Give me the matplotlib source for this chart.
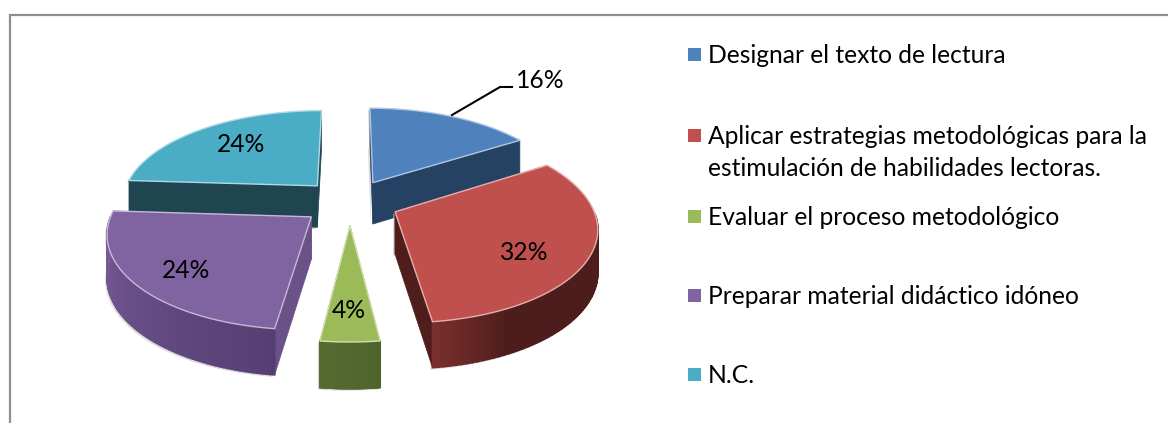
import numpy as np
import matplotlib
matplotlib.use('Agg')
import matplotlib.pyplot as plt
from matplotlib.patches import Polygon, Rectangle

labels = ['Designar el texto de lectura',
          'Aplicar estrategias metodológicas para la\nestimulación de habilidades lectoras.',
          'Evaluar el proceso metodológico',
          'Preparar material didáctico idóneo',
          'N.C.']
values = [16, 32, 4, 24, 24]
colors = ['#4f81bd', '#c0504d', '#9bbb59', '#8064a2', '#4bacc6']
cut_colors = ['#264263', '#4f1e1c', '#566b30', '#6a5188', '#1f4550']
wall_light = ['#33557f', '#7c302d', '#566b30', '#7a5c9c', '#2a5a68']
wall_dark = ['#264263', '#4d1d1b', '#4f632c', '#553f72', '#1f4550']

pct_pos = [(540, 81), (524, 252), (349, 310), (186, 270), (241, 144)]
legend_baseline = [63, 144, 225, 304, 383]

# projection of the pie plane to pixels
CX, CY = 350, 202
A, B, K = 196, 91, 0.15
EXPLODE = 0.25
DEPTH = 42


def project(x, y):
    s = 1 / (1 + K * y)
    return CX + A * x * s, CY - B * y * s, s


def drop(s):
    return DEPTH * s ** 0.5


def slice_outline(a1, a2):
    mid = (a1 + a2) / 2
    ox, oy = EXPLODE * np.sin(mid), EXPLODE * np.cos(mid)
    ang = np.linspace(a1, a2, 80)
    x = np.r_[ox, ox + np.sin(ang)]
    y = np.r_[oy, oy + np.cos(ang)]
    return project(x, y), ang


def face(ax, px, py, ps, idx, color, z, lw=0.5):
    xs = [px[idx[0]], px[idx[1]], px[idx[1]], px[idx[0]]]
    ys = [py[idx[0]], py[idx[1]], py[idx[1]] + drop(ps[idx[1]]), py[idx[0]] + drop(ps[idx[0]])]
    ax.add_patch(Polygon(np.c_[xs, ys], closed=True, fc=color, ec=color, lw=lw, zorder=z))


fig = plt.figure(figsize=(11.68, 4.23), dpi=100)
ax = fig.add_axes([0, 0, 1, 1])
ax.set_xlim(0, 1168)
ax.set_ylim(423, 0)
ax.axis('off')

# chart frame
ax.plot([9.5, 9.5, 1168], [423, 15.5, 15.5], color='#8e8e8e', lw=1.6, solid_joinstyle='miter')

edges = np.cumsum([0] + values) / sum(values) * 2 * np.pi
order = sorted(range(len(values)), key=lambda i: -np.cos((edges[i] + edges[i + 1]) / 2))

for n, i in enumerate(order):
    z = 10 + n * 5
    (px, py, ps), ang = slice_outline(edges[i], edges[i + 1])

    # soft shadow under the walls
    sx = np.r_[px, px[::-1]]
    sy = np.r_[py, (py + np.array([drop(v) for v in ps]))[::-1]]
    ax.add_patch(Polygon(np.c_[sx - 2, sy + 2], closed=True, fc='#c4c4c4', ec='none', alpha=0.6, zorder=z))

    # cut faces from the centre to both ends of the arc
    face(ax, px, py, ps, (0, 1), cut_colors[i], z + 1)
    face(ax, px, py, ps, (0, len(px) - 1), cut_colors[i], z + 1)

    # outer wall, shaded along the arc, front half only
    c1 = np.array(matplotlib.colors.to_rgb(wall_light[i]))
    c2 = np.array(matplotlib.colors.to_rgb(wall_dark[i]))
    for j in range(1, len(px) - 1):
        if np.cos(ang[j - 1]) > 0:
            continue
        t = (j - 1) / (len(px) - 2)
        if i == 1:
            # red wall stays dark until the last stretch near the front cut
            col = c2 + (c1 - c2) * max(0, (t - 0.82) / 0.18)
        else:
            col = c2 + (c1 - c2) * t
        face(ax, px, py, ps, (j, j + 1), col, z + 2, lw=1.2)

    # top face with its pale rim
    ax.add_patch(Polygon(np.c_[px, py], closed=True, fc=colors[i], ec='none', zorder=z + 3))
    rim = tuple(0.45 * c + 0.55 for c in matplotlib.colors.to_rgb(colors[i]))
    ax.add_patch(Polygon(np.c_[px, py], closed=True, fc='none', ec=rim, lw=1.0, zorder=z + 3))

# data labels
for v, (x, y) in zip(values, pct_pos):
    ax.text(x, y, f'{v}%', ha='center', va='center', fontsize=17.7, family='Lato', color='black', zorder=60)
ax.plot([452, 500, 512], [115, 87, 87], color='black', lw=1.5, zorder=60)

# legend
for lab, col, base in zip(labels, colors, legend_baseline):
    ax.add_patch(Rectangle((688, base - 15), 12.5, 13, fc=col, ec='none', zorder=60))
    for k, line in enumerate(lab.split('\n')):
        ax.text(708, base + 32 * k, line, ha='left', va='baseline', fontsize=17.7, family='Lato',
                color='black', zorder=60)

plt.savefig('out.png', dpi=100, facecolor='white')
